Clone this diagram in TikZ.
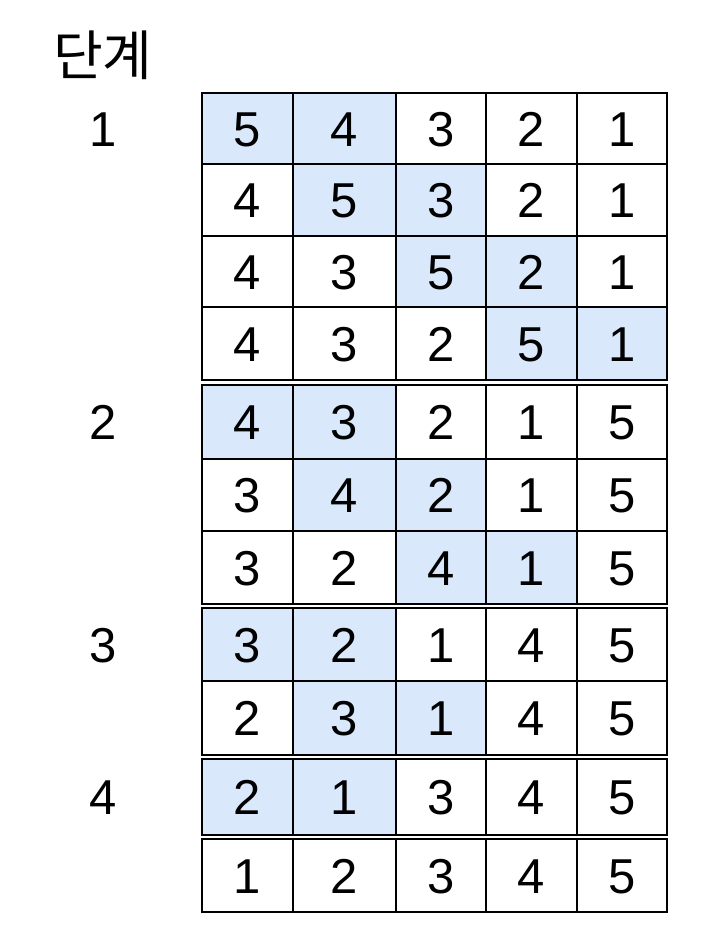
\documentclass[tikz,border=0pt]{standalone}
\usepackage{fontspec}
\setmainfont{Liberation Sans}
\newfontfamily\krfont{Noto Sans CJK KR}
\usepackage{tikz}
\definecolor{cellblue}{HTML}{DAE8FC}
\tikzstyle{cell}=[draw,rectangle,line width=2pt,inner sep=0pt,text height=35pt,text depth=0pt,font=\fontsize{49}{49}\selectfont]
\tikzstyle{stage}=[inner sep=0pt,text height=35pt,text depth=0pt,font=\fontsize{49}{49}\selectfont]
\begin{document}
\begin{tikzpicture}[x=1pt,y=-1pt]
      \useasboundingbox (0,0) rectangle (714,946);
      \node [font=\krfont\fontsize{54}{54}\selectfont] (title) at (103,55) {단계};
      % y / height / first shaded column / values
      \foreach \y/\h/\k/\vals [count=\r] in {
          128.5/71/1/{5,4,3,2,1}, 200/72/2/{4,5,3,2,1},
          271.5/71/3/{4,3,5,2,1}, 343.5/73/4/{4,3,2,5,1},
          422/74/1/{4,3,2,1,5}, 495/72/2/{3,4,2,1,5},
          567.5/73/3/{3,2,4,1,5}, 644.5/73/1/{3,2,1,4,5},
          718/74/2/{2,3,1,4,5}, 797/76/1/{2,1,3,4,5},
          875.5/73/9/{1,2,3,4,5}}
        \foreach \x/\w [count=\c] in {247.5/91, 344.5/103, 441/90, 531.5/91, 622/90} {
          \pgfmathtruncatemacro\v{{\vals}[\c-1]}
          \pgfmathsetmacro\fc{(\c==\k || \c==\k+1) ? "cellblue" : "white"}
          \node [cell, fill=\fc, minimum width=\w pt, minimum height=\h pt]
            (c\r-\c) at (\x,\y) {\v};
        }
      \node [stage] (s1) at (103,128.5) {1};
      \node [stage] (s2) at (103,422) {2};
      \node [stage] (s3) at (103,644.5) {3};
      \node [stage] (s4) at (103,797) {4};
\end{tikzpicture}
\end{document}
